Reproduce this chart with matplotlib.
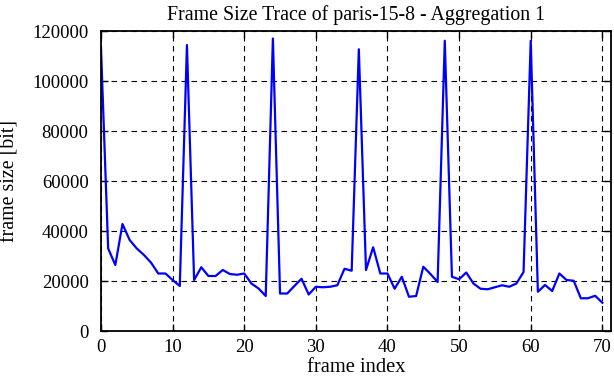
import numpy as np
import matplotlib
matplotlib.use("Agg")
import matplotlib.pyplot as plt

# frame sizes in bit (frames 0..70)
frame_size = [
    113000, 33000, 26400, 42800, 36400, 33000, 30400, 27300, 23000, 23000,
    20400, 18000, 114400, 20400, 25500, 22000, 22000, 24400, 22800, 22500,
    23000, 19000, 17000, 14000, 117000, 15000, 15000, 18000, 20900, 14600,
    17700, 17500, 17700, 18300, 24900, 24100, 112700, 24400, 33500, 23000,
    23000, 16900, 21700, 13700, 14000, 25700, 22800, 19600, 116100, 21700,
    20700, 23400, 19000, 16900, 16700, 17500, 18300, 17700, 19000, 23600,
    116100, 15700, 18400, 16000, 23000, 20400, 20100, 13100, 13100, 14100,
    11300,
]
frame_index = np.arange(len(frame_size))

x_ticks = [0, 10, 20, 30, 40, 50, 60, 70]
y_ticks = [0, 20000, 40000, 60000, 80000, 100000, 120000]

plt.rcParams['font.family'] = ['Liberation Serif', 'DejaVu Serif']
plt.rcParams['font.size'] = 13.5

fig = plt.figure(figsize=(6.14, 3.82), dpi=100)
ax = fig.add_axes([0.1645, 0.1335, 0.8305, 0.7853])

ax.plot(frame_index, frame_size, color='#0000ff', linewidth=1.6)

ax.set_xlim(0, 71.2)
ax.set_ylim(0, 120000)
ax.set_xticks(x_ticks)
ax.set_yticks(y_ticks)
ax.tick_params(direction='in', length=5, width=1, top=True, right=True)
ax.tick_params(axis='y', pad=9)
ax.tick_params(axis='x', pad=6)
ax.grid(True, color='black', linestyle=(0, (5, 4)), linewidth=0.8)
for s in ax.spines.values():
    s.set_linewidth(1.3)

ax.set_title('Frame Size Trace of paris-15-8 - Aggregation 1', fontsize=14.3, pad=8)
ax.set_xlabel('frame index', fontsize=14.8, labelpad=1)
ax.set_ylabel('frame size [bit]', fontsize=14.3)
ax.yaxis.set_label_coords(-0.16, 0.5)

fig.savefig('out.png', dpi=100)
